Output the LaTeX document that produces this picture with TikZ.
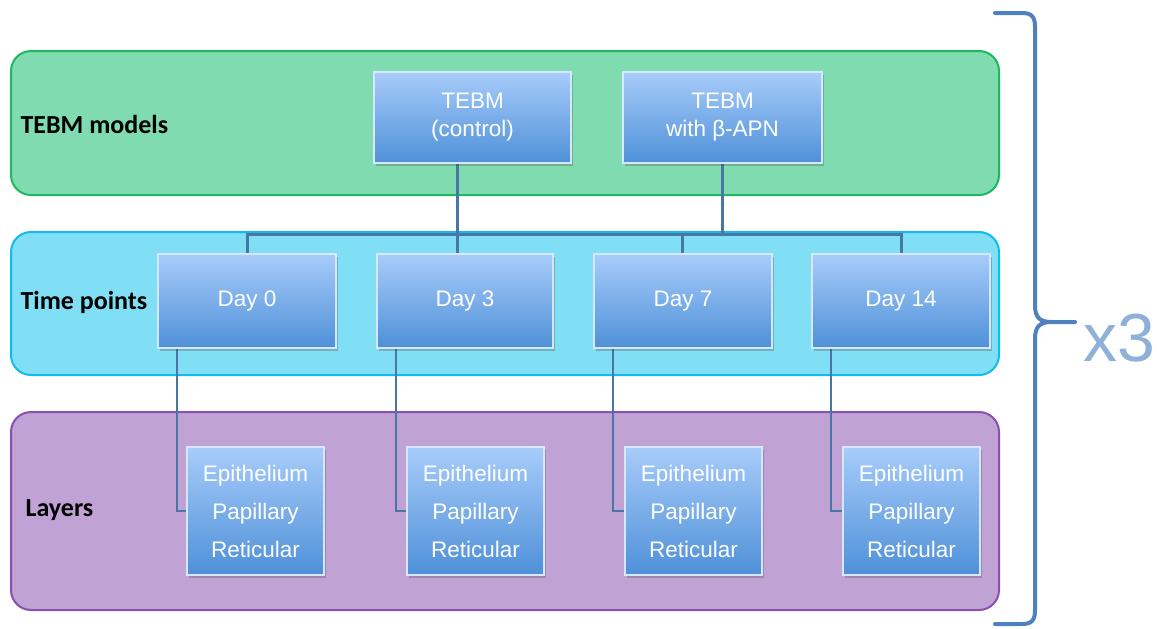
\documentclass[tikz,border=0pt]{standalone}
\usepackage{fontspec}
\setmainfont{Liberation Sans}
\newfontfamily\lblfont{Carlito}
\usetikzlibrary{shadows}
\pgfdeclarelayer{bands}
\pgfdeclarelayer{conns}
\pgfsetlayers{bands,conns,main}
\definecolor{gfill}{HTML}{80DCB0}
\definecolor{gline}{HTML}{1DB860}
\definecolor{cfill}{HTML}{80DEF5}
\definecolor{cline}{HTML}{10BCEE}
\definecolor{pfill}{HTML}{C1A2D5}
\definecolor{pline}{HTML}{8A50B0}
\definecolor{btop}{HTML}{A8CCFA}
\definecolor{bbot}{HTML}{4E90D8}
\definecolor{bedge}{HTML}{D6E8FF}
\definecolor{conncol}{HTML}{4A76A6}
\definecolor{bracecol}{HTML}{4F81BD}
\definecolor{xcol}{HTML}{8FB0D8}
\tikzset{
  band/.style={rounded corners=20pt, line width=2pt},
  tbox/.style={anchor=north west, inner sep=0pt, outer sep=0pt,
    top color=btop, bottom color=bbot, draw=bedge, line width=1.2pt,
    text=white, align=center, font=\fontsize{22.5}{28}\selectfont,
    drop shadow={shadow xshift=1.5pt, shadow yshift=-2.5pt, opacity=0.3, fill=black!70}},
  lbox/.style={tbox, font=\fontsize{22.5}{38}\selectfont},
  lbl/.style={anchor=west, font=\lblfont\bfseries\fontsize{26}{28}\selectfont, text=black},
  conn/.style={draw=conncol, line width=3pt},
}
\begin{document}
\begin{tikzpicture}[x=1pt, y=-1pt]
\useasboundingbox (0,0) rectangle (1157,629);
\begin{pgfonlayer}{bands}
\fill[white] (0,0) rectangle (1157,629);
\draw[band, fill=gfill, draw=gline] (11,51) rectangle (999,195);
\draw[band, fill=cfill, draw=cline] (11,232) rectangle (999,375);
\draw[band, fill=pfill, draw=pline] (11,412) rectangle (999,610);
\end{pgfonlayer}
\node[lbl] (lm) at (17,124) {TEBM models};
\node[lbl] (lt) at (17,302) {Time points};
\node[lbl] (ll) at (22,510) {Layers};
\coordinate (bar) at (0,234);
\node[tbox, minimum width=197pt, minimum height=91pt] (tc) at (374,72) {TEBM\\(control)};
\node[tbox, minimum width=199pt, minimum height=91pt] (tb) at (623,72) {TEBM\\with β-APN};
\node[tbox, minimum width=178pt, minimum height=94pt] (d0) at (158,254) {Day 0};
\node[tbox, minimum width=176pt, minimum height=94pt] (d3) at (377,254) {Day 3};
\node[tbox, minimum width=178pt, minimum height=94pt] (d7) at (594,254) {Day 7};
\node[tbox, minimum width=178pt, minimum height=94pt] (d14) at (812,254) {Day 14};
\node[lbox, minimum width=137pt, minimum height=128pt] (l0) at (187,447) {Epithelium\\Papillary\\Reticular};
\node[lbox, minimum width=137pt, minimum height=128pt] (l3) at (407,447) {Epithelium\\Papillary\\Reticular};
\node[lbox, minimum width=137pt, minimum height=128pt] (l7) at (625,447) {Epithelium\\Papillary\\Reticular};
\node[lbox, minimum width=137pt, minimum height=128pt] (l14) at (843,447) {Epithelium\\Papillary\\Reticular};
\begin{pgfonlayer}{conns}
\draw[conn] (d0.north) -- (d0.north |- bar) -- (d14.north |- bar) -- (d14.north);
\draw[conn] ([xshift=-8pt]d3.north) -- ([xshift=-8pt]d3.north |- tc.south);
\draw[conn] ([xshift=-1pt]d7.north) -- ([xshift=-1pt]d7.north |- bar);
\draw[conn] (tb.south) -- (tb.south |- bar);
\foreach \d/\l in {d0/l0, d3/l3, d7/l7, d14/l14}{
  \draw[conn, line width=2.5pt] ([xshift=19pt]\d.south west) |- (\l.west);
}
\end{pgfonlayer}
\coordinate (tip) at (1075,322);
\draw[draw=bracecol, line width=4pt, line cap=round, line join=round]
  (995,13) -- (1022,13) .. controls (1032,13) and (1035,17) .. (1035,27)
  -- (1035,305) .. controls (1035,318) and (1040,322) .. (1052,322) -- (tip)
  (1052,322) .. controls (1040,322) and (1035,326) .. (1035,339)
  -- (1035,610) .. controls (1035,620) and (1032,624) .. (1022,624) -- (995,624);
\node[anchor=west, text=xcol, font=\fontsize{68}{68}\selectfont, inner sep=0pt] (x3) at (1083,338) {x3};
\end{tikzpicture}
\end{document}
